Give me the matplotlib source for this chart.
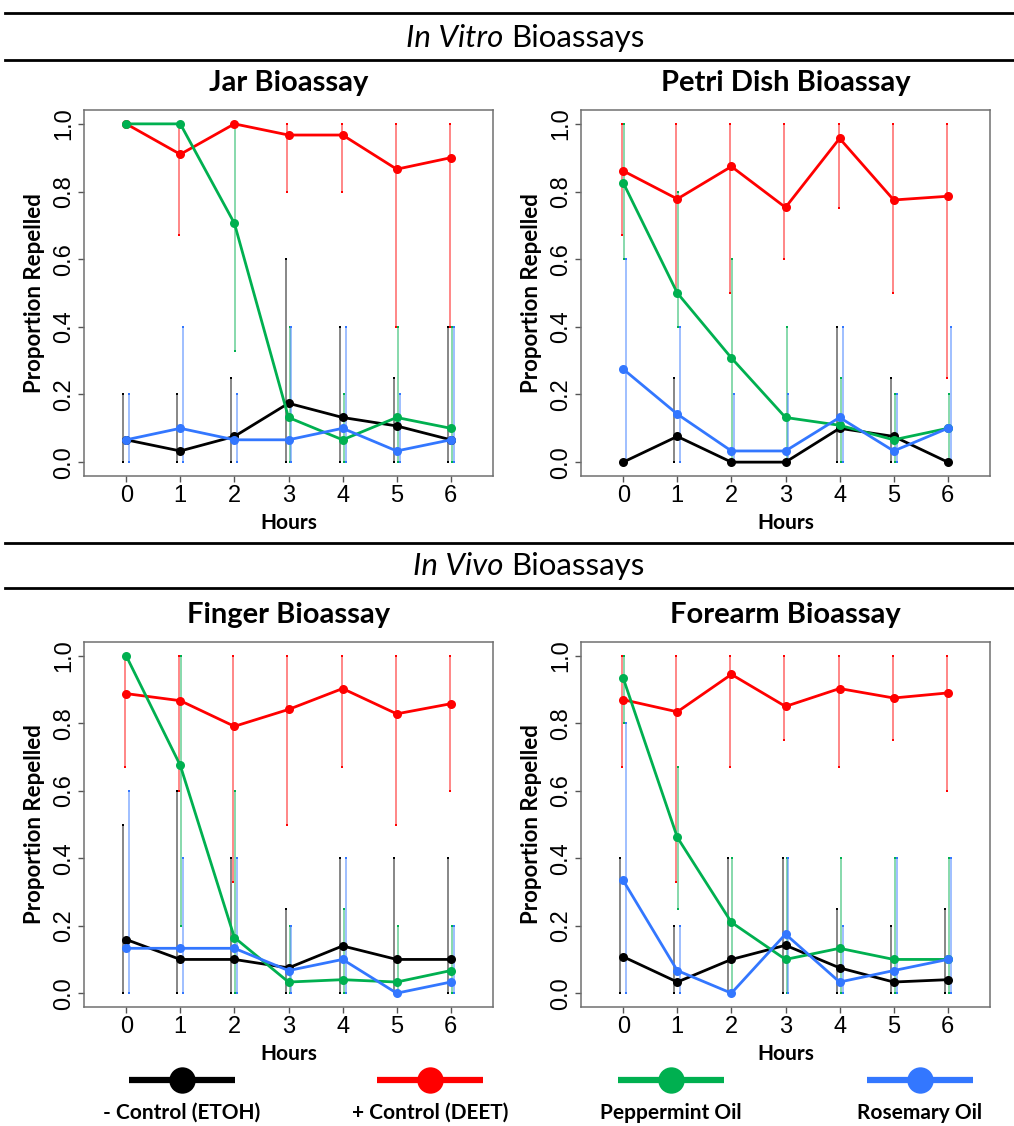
import numpy as np
import matplotlib
matplotlib.use("Agg")
from matplotlib import pyplot as plt
from matplotlib.lines import Line2D

hours = [0, 1, 2, 3, 4, 5, 6]
y_ticks = [0.0, 0.2, 0.4, 0.6, 0.8, 1.0]
series_names = ["- Control (ETOH)", "+ Control (DEET)", "Peppermint Oil", "Rosemary Oil"]
series_colors = ["black", "#FF0000", "#00B050", "#3377FF"]
bar_shift = [-0.055, -0.02, 0.02, 0.055]

# Jar bioassay (None = no error bar)
jar_etoh = [0.066, 0.033, 0.076, 0.174, 0.132, 0.107, 0.066]
jar_etoh_lo = [0, 0, 0, 0, 0, 0, 0]
jar_etoh_hi = [0.2, 0.2, 0.25, 0.6, 0.4, 0.25, 0.4]
jar_deet = [1.0, 0.91, 1.0, 0.967, 0.967, 0.866, 0.90]
jar_deet_lo = [None, 0.67, None, 0.8, 0.8, 0.4, 0.4]
jar_deet_hi = [None, 1.0, None, 1.0, 1.0, 1.0, 1.0]
jar_pep = [1.0, 1.0, 0.706, 0.132, 0.066, 0.132, 0.10]
jar_pep_lo = [None, None, 0.33, 0, 0, 0, 0]
jar_pep_hi = [None, None, 1.0, 0.4, 0.2, 0.4, 0.4]
jar_ros = [0.066, 0.10, 0.066, 0.066, 0.10, 0.033, 0.066]
jar_ros_lo = [0, 0, 0, 0, 0, 0, 0]
jar_ros_hi = [0.2, 0.4, 0.2, 0.4, 0.4, 0.2, 0.4]

# Petri dish bioassay
petri_etoh = [0.0, 0.076, 0.0, 0.0, 0.10, 0.076, 0.0]
petri_etoh_lo = [None, 0, None, None, 0, 0, None]
petri_etoh_hi = [None, 0.25, None, None, 0.4, 0.25, None]
petri_deet = [0.861, 0.778, 0.874, 0.753, 0.957, 0.775, 0.786]
petri_deet_lo = [0.67, 0.5, 0.5, 0.6, 0.75, 0.5, 0.25]
petri_deet_hi = [1.0, 1.0, 1.0, 1.0, 1.0, 1.0, 1.0]
petri_pep = [0.826, 0.50, 0.308, 0.132, 0.109, 0.066, 0.10]
petri_pep_lo = [0.6, 0.4, 0, 0, 0, 0, 0]
petri_pep_hi = [1.0, 0.8, 0.6, 0.4, 0.25, 0.2, 0.2]
petri_ros = [0.275, 0.142, 0.033, 0.033, 0.132, 0.033, 0.10]
petri_ros_lo = [0, 0, 0, 0, 0, 0, 0]
petri_ros_hi = [0.6, 0.4, 0.2, 0.2, 0.4, 0.2, 0.4]

# Finger bioassay
finger_etoh = [0.159, 0.10, 0.10, 0.075, 0.14, 0.10, 0.10]
finger_etoh_lo = [0, 0, 0, 0, 0, 0, 0]
finger_etoh_hi = [0.5, 0.6, 0.4, 0.25, 0.4, 0.4, 0.4]
finger_deet = [0.888, 0.867, 0.791, 0.841, 0.903, 0.828, 0.858]
finger_deet_lo = [0.67, 0.6, 0.33, 0.5, 0.67, 0.5, 0.6]
finger_deet_hi = [1.0, 1.0, 1.0, 1.0, 1.0, 1.0, 1.0]
finger_pep = [1.0, 0.675, 0.165, 0.033, 0.04, 0.033, 0.067]
finger_pep_lo = [None, 0.2, 0, 0, 0, 0, 0]
finger_pep_hi = [None, 1.0, 0.6, 0.2, 0.25, 0.2, 0.2]
finger_ros = [0.133, 0.133, 0.133, 0.067, 0.10, 0.0, 0.033]
finger_ros_lo = [0, 0, 0, 0, 0, None, 0]
finger_ros_hi = [0.6, 0.4, 0.4, 0.2, 0.4, None, 0.2]

# Forearm bioassay
forearm_etoh = [0.108, 0.033, 0.10, 0.142, 0.075, 0.033, 0.04]
forearm_etoh_lo = [0, 0, 0, 0, 0, 0, 0]
forearm_etoh_hi = [0.4, 0.2, 0.4, 0.4, 0.25, 0.2, 0.25]
forearm_deet = [0.87, 0.834, 0.945, 0.85, 0.903, 0.875, 0.89]
forearm_deet_lo = [0.67, 0.33, 0.67, 0.75, 0.67, 0.75, 0.6]
forearm_deet_hi = [1.0, 1.0, 1.0, 1.0, 1.0, 1.0, 1.0]
forearm_pep = [0.934, 0.462, 0.21, 0.10, 0.133, 0.10, 0.10]
forearm_pep_lo = [0.8, 0.25, 0, 0, 0, 0, 0]
forearm_pep_hi = [1.0, 0.67, 0.4, 0.4, 0.4, 0.4, 0.4]
forearm_ros = [0.334, 0.067, 0.0, 0.175, 0.033, 0.067, 0.10]
forearm_ros_lo = [0, 0, None, 0, 0, 0, 0]
forearm_ros_hi = [0.8, 0.2, None, 0.4, 0.2, 0.4, 0.4]

panels = [
    ("Jar Bioassay", [(jar_etoh, jar_etoh_lo, jar_etoh_hi), (jar_deet, jar_deet_lo, jar_deet_hi),
                      (jar_pep, jar_pep_lo, jar_pep_hi), (jar_ros, jar_ros_lo, jar_ros_hi)]),
    ("Petri Dish Bioassay", [(petri_etoh, petri_etoh_lo, petri_etoh_hi), (petri_deet, petri_deet_lo, petri_deet_hi),
                             (petri_pep, petri_pep_lo, petri_pep_hi), (petri_ros, petri_ros_lo, petri_ros_hi)]),
    ("Finger Bioassay", [(finger_etoh, finger_etoh_lo, finger_etoh_hi), (finger_deet, finger_deet_lo, finger_deet_hi),
                         (finger_pep, finger_pep_lo, finger_pep_hi), (finger_ros, finger_ros_lo, finger_ros_hi)]),
    ("Forearm Bioassay", [(forearm_etoh, forearm_etoh_lo, forearm_etoh_hi), (forearm_deet, forearm_deet_lo, forearm_deet_hi),
                          (forearm_pep, forearm_pep_lo, forearm_pep_hi), (forearm_ros, forearm_ros_lo, forearm_ros_hi)]),
]

W, H = 1014, 1126
label_font = "Lato"
tick_font = "Liberation Sans"

fig = plt.figure(figsize=(W / 100, H / 100), dpi=100)


def px_box(left, top, right, bottom):
    return [left / W, 1 - bottom / H, (right - left) / W, (bottom - top) / H]


boxes = [px_box(84, 110, 493, 476), px_box(581, 110, 990, 476),
         px_box(84, 642, 493, 1007), px_box(581, 642, 990, 1007)]

for (title, series), box in zip(panels, boxes):
    ax = fig.add_axes(box)
    # error bars first, behind the lines
    for k, (mean, lo, hi) in enumerate(series):
        for h, m, a, b in zip(hours, mean, lo, hi):
            if a is None:
                continue
            xb = h + bar_shift[k]
            ax.plot([xb, xb], [a, b], color=series_colors[k], lw=1.2, alpha=0.55, zorder=1)
            ax.plot([xb, xb], [a, b], ls="none", marker="s", ms=1.6, mew=0,
                    color=series_colors[k], zorder=1)
    for k, (mean, lo, hi) in enumerate(series):
        ax.plot(hours, mean, color=series_colors[k], lw=2, marker="o", ms=6.5, mew=0, zorder=3 + k)

    ax.set_xlim(-0.78, 6.78)
    ax.set_ylim(-0.041, 1.041)
    ax.set_xticks(hours)
    ax.set_yticks(y_ticks)
    ax.set_xticklabels([str(h) for h in hours], fontfamily=tick_font, fontsize=17)
    ax.set_yticklabels([f"{v:.1f}" for v in y_ticks], fontfamily=tick_font, fontsize=17,
                       rotation=90, va="center")
    ax.tick_params(length=4.5, width=1, color="#555555", pad=2)
    for sp in ax.spines.values():
        sp.set_color("#707070")
        sp.set_linewidth(1.1)
    ax.set_title(title, fontfamily=label_font, fontweight="bold", fontsize=21, pad=14)
    ax.set_xlabel("Hours", fontfamily=label_font, fontweight="bold", fontsize=15, labelpad=4)
    ax.set_ylabel("Proportion Repelled", fontfamily=label_font, fontweight="bold", fontsize=16, labelpad=6)

# section header rules and titles
for yp in [13, 60, 543, 588]:
    fig.add_artist(Line2D([5 / W, 1.0], [1 - yp / H, 1 - yp / H], color="black", lw=2))

for y_c, word in [(38, "In Vitro"), (566, "In Vivo")]:
    fig.text(511 / W, 1 - y_c / H, word + " ", fontfamily=label_font, fontstyle="italic",
             fontsize=22.5, ha="right", va="center")
    fig.text(511 / W, 1 - y_c / H, "Bioassays", fontfamily=label_font,
             fontsize=22.5, ha="left", va="center")

# legend along the bottom
leg = fig.add_axes([0, 0, 1, 1 - 1060 / H])
leg.set_xlim(0, W)
leg.set_ylim(0, 1)
leg.axis("off")
leg_centers = [182, 430, 671, 920]
for c, name, col in zip(leg_centers, series_names, series_colors):
    leg.plot([c - 53, c + 53], [0.69, 0.69], color=col, lw=4.5, solid_capstyle="butt")
    leg.plot([c], [0.69], color=col, marker="o", ms=19, mew=0)
    leg.text(c, 0.2, name, fontfamily=label_font, fontweight="bold", fontsize=15,
             ha="center", va="center")

fig.savefig("out.png", dpi=100, facecolor="white")
